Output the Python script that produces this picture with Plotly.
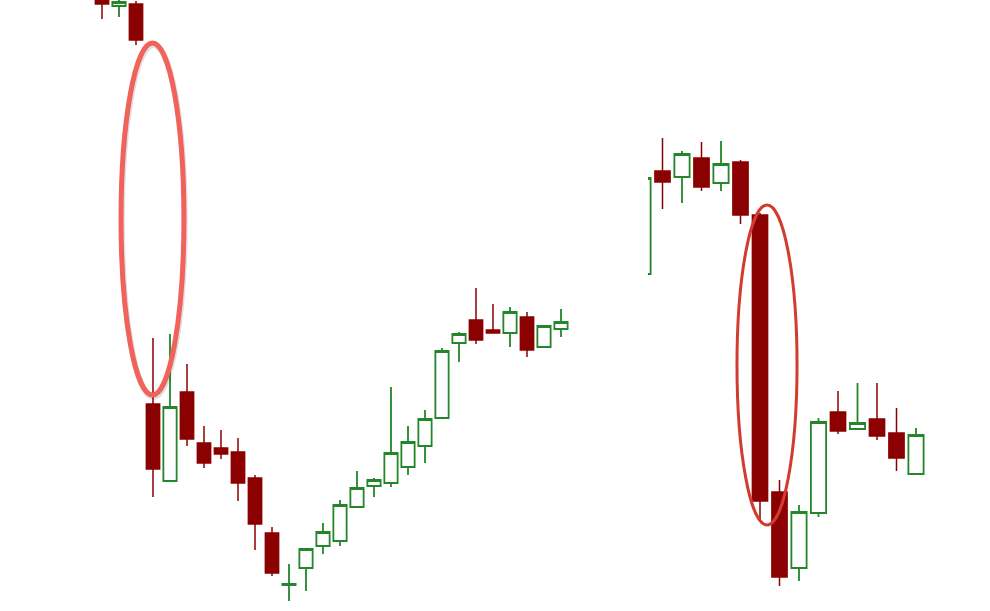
import plotly.graph_objects as go

# Left chart (sessions 0..27)
left_x = list(range(28))
left_open  = [616, 605, 607, 207, 130, 219, 168, 163, 159, 133, 78, 26, 43, 65, 70, 104, 125, 128, 144, 165, 193, 268, 291, 281, 278, 294, 264, 282]
left_high  = [621, 613, 610, 273, 277, 247, 185, 181, 173, 136, 84, 47, 63, 88, 111, 140, 133, 224, 185, 201, 263, 279, 323, 307, 304, 299, 285, 302]
left_low   = [592, 594, 566, 114, 130, 165, 143, 152, 110, 61, 35, 10, 20, 57, 65, 103, 114, 124, 136, 148, 193, 249, 267, 278, 264, 254, 264, 274]
left_close = [607, 609, 571, 142, 204, 172, 148, 157, 128, 87, 38, 27, 62, 79, 106, 123, 131, 158, 169, 192, 260, 277, 271, 278, 299, 261, 285, 289]

# Right chart (sessions -1..13)
right_x = list(range(-1, 14))
right_open  = [337, 440, 434, 453, 428, 449, 396, 119, 43, 98, 199, 182, 192, 178, 137]
right_high  = [433, 473, 460, 469, 470, 451, 398, 131, 106, 193, 220, 228, 228, 203, 183]
right_low   = [337, 402, 408, 420, 420, 387, 89, 25, 30, 94, 177, 182, 171, 140, 137]
right_close = [433, 429, 457, 424, 447, 396, 110, 34, 99, 189, 180, 188, 175, 153, 176]

GREEN = "#23862a"
RED = "#8b0000"

def candles(x, o, h, l, c, xa, ya):
    return go.Candlestick(
        x=x, open=o, high=h, low=l, close=c, xaxis=xa, yaxis=ya,
        increasing=dict(line=dict(color=GREEN, width=1.8), fillcolor="white"),
        decreasing=dict(line=dict(color=RED, width=1.5), fillcolor=RED),
        whiskerwidth=0, showlegend=False, hoverinfo="skip",
    )

fig = go.Figure()
fig.add_trace(candles(left_x, left_open, left_high, left_low, left_close, "x", "y"))
fig.add_trace(candles(right_x, right_open, right_high, right_low, right_close, "x2", "y2"))

W, H = 990, 611
L_end = 600
R_start = 648
l_r0 = -102 / 17
l_r1 = l_r0 + L_end / 17
r_r0 = (R_start - 662.5) / 19.5
r_r1 = r_r0 + (W - R_start) / 19.5

axis_common = dict(visible=False, showgrid=False, zeroline=False, fixedrange=True)
fig.update_layout(
    width=W, height=H,
    margin=dict(l=0, r=0, t=0, b=0),
    paper_bgcolor="white", plot_bgcolor="white",
    boxgap=0.22, boxgroupgap=0,
    xaxis=dict(domain=[0, L_end / W], range=[l_r0, l_r1], rangeslider=dict(visible=False), **axis_common),
    yaxis=dict(domain=[0, 1], range=[0, H], **axis_common),
    xaxis2=dict(domain=[R_start / W, 1], range=[r_r0, r_r1], anchor="y2", rangeslider=dict(visible=False), **axis_common),
    yaxis2=dict(domain=[0, 1], range=[0, H], anchor="x2", **axis_common),
    shapes=[
        dict(type="circle", xref="x", yref="y", x0=1.17, x1=4.87, y0=214, y1=566,
             line=dict(color="rgba(0,0,0,0.12)", width=6)),
        dict(type="circle", xref="x", yref="y", x0=1.12, x1=4.82, y0=216, y1=568,
             line=dict(color="#f0625a", width=5)),
        dict(type="circle", xref="x2", yref="y2", x0=3.82, x1=6.9, y0=86, y1=406,
             line=dict(color="#d23c30", width=3)),
    ],
)

fig.write_html("out.html", config={"displayModeBar": False},
               post_script="document.body.style.margin='0';")
